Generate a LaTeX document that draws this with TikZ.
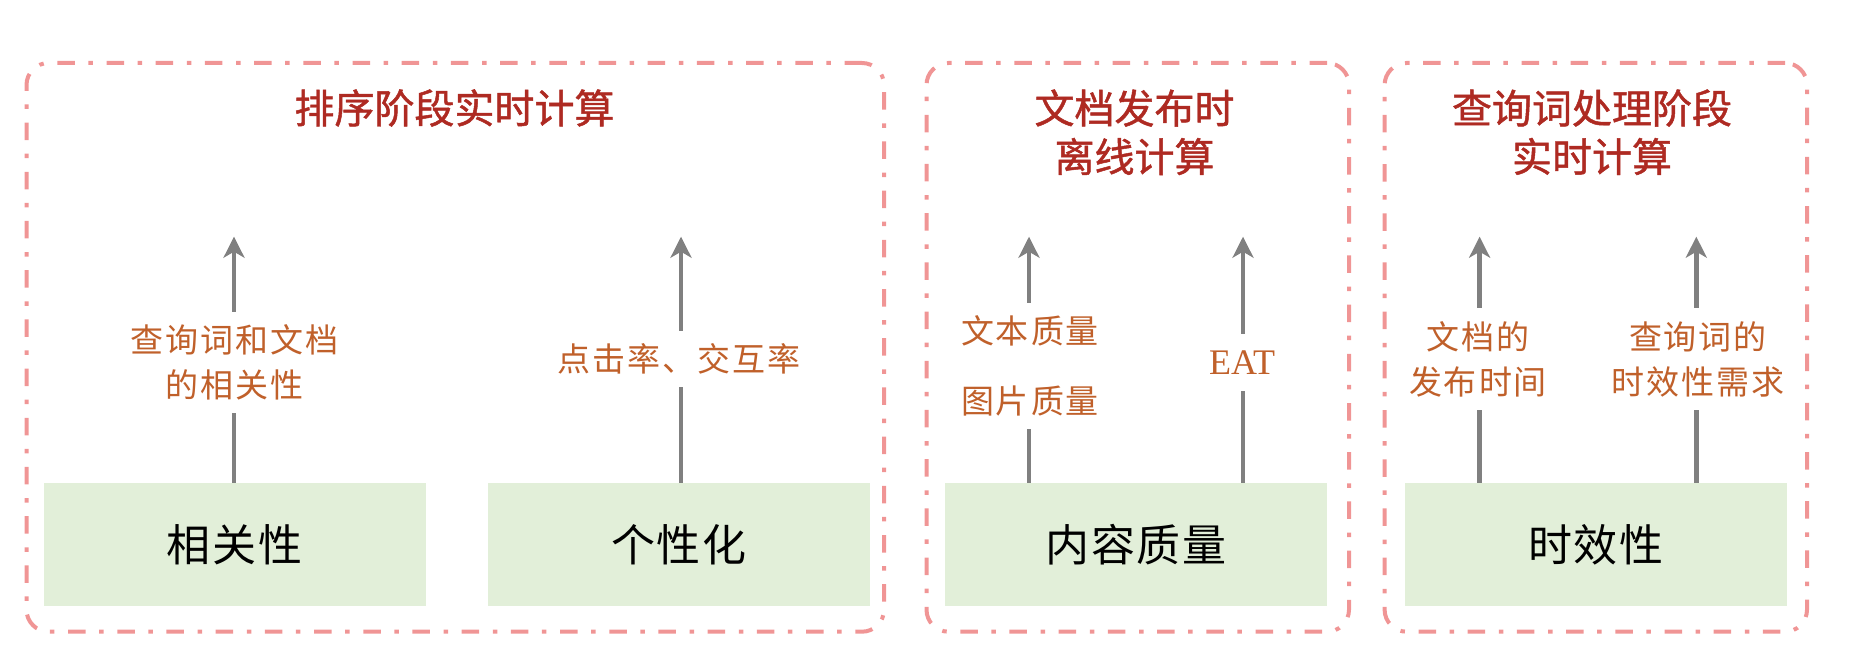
\documentclass[tikz,border=0pt]{standalone}
\usepackage{fontspec}
\setmainfont{Liberation Serif}
\newfontfamily\cjk[FakeBold=1.2]{Noto Sans CJK SC}
\newfontfamily\cjklab[LetterSpace=6]{Noto Sans CJK SC}
\newfontfamily\cjkbox[LetterSpace=4]{Noto Sans CJK SC}
\usetikzlibrary{arrows.meta}
\definecolor{pinkc}{HTML}{F09595}
\definecolor{redc}{HTML}{AE2A22}
\definecolor{orangec}{HTML}{C0602A}
\definecolor{greenc}{HTML}{E2EFD9}
\definecolor{grayc}{HTML}{808080}
\tikzset{
  group/.style={draw=pinkc, line width=4pt, rounded corners=22pt,
    dash pattern=on 17.5pt off 13.6pt on 4.5pt off 13.6pt,
    minimum height=568.7pt, inner sep=0pt},
  factor/.style={fill=greenc, minimum width=382pt, minimum height=123.3pt,
    inner sep=0pt, font=\cjkbox\fontsize{44}{50}\selectfont},
  title/.style={text=redc, font=\cjk\fontsize{40}{48.5}\selectfont, align=center},
  lab/.style={fill=white, text=orangec, font=\cjklab\fontsize{33}{45}\selectfont,
    align=center, inner xsep=4pt, inner ysep=13pt},
  arr/.style={draw=grayc, line width=4.4pt, -{Stealth[length=21pt,width=21pt,inset=6pt]}}
}
\begin{document}
\begin{tikzpicture}[x=1pt,y=-1pt]
\useasboundingbox (0,0) rectangle (1868,668);
% groups
\node[group, minimum width=857.5pt] (grp1) at (455.25,347.35) {};
\node[group, minimum width=422.5pt] (grp2) at (1137.75,347.35) {};
\node[group, minimum width=422.4pt] (grp3) at (1595.8,347.35) {};
% titles
\node[title] (t1) at (454.5,108) {排序阶段实时计算};
\node[title] (t2) at (1134.5,132.25) {文档发布时\\离线计算};
\node[title] (t3) at (1592,132.25) {查询词处理阶段\\实时计算};
% factor boxes
\node[factor] (g1) at (234.5,544.35) {相关性};
\node[factor] (g2) at (679,544.35) {个性化};
\node[factor] (g3) at (1136,544.35) {内容质量};
\node[factor] (g4) at (1596,544.35) {时效性};
% arrow tips
\coordinate (a1) at (234,236.7);
\coordinate (a2) at (681,236.7);
\coordinate (a3) at (1029,236.7);
\coordinate (a4) at (1243,236.7);
\coordinate (a5) at (1479.6,236.7);
\coordinate (a6) at (1696.3,236.7);
\draw[arr] (a1 |- g1.north) -- (a1);
\draw[arr] (a2 |- g2.north) -- (a2);
\draw[arr] (a3 |- g3.north) -- (a3);
\draw[arr] (a4 |- g3.north) -- (a4);
\draw[arr] (a5 |- g4.north) -- (a5);
\draw[arr] (a6 |- g4.north) -- (a6);
% labels
\node[lab] (l1) at (234.5,362.3) {查询词和文档\\的相关性};
\node[lab] (l2) at (679,359) {点击率、交互率};
\node[lab, font=\cjklab\fontsize{33}{70}\selectfont] (l3) at (1030,366) {文本质量\\图片质量};
\node[lab, font=\fontsize{36}{40}\selectfont, inner ysep=17pt] (l4) at (1242,362.5) {EAT};
\node[lab] (l5) at (1478,359) {文档的\\发布时间};
\node[lab] (l6) at (1698,359) {查询词的\\时效性需求};
\end{tikzpicture}
\end{document}
